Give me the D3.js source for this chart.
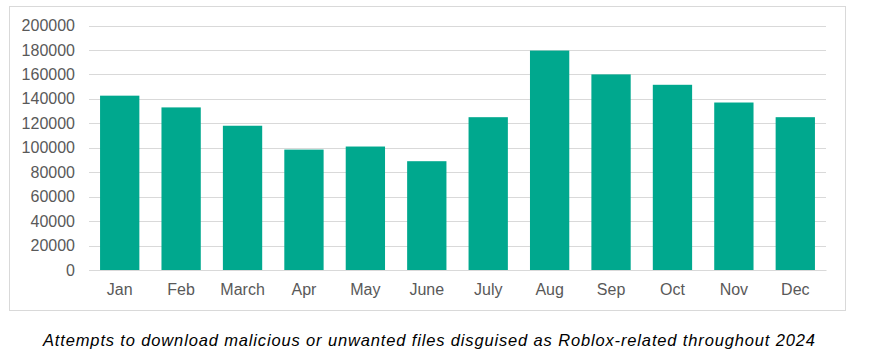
<!DOCTYPE html>
<html><head><meta charset="utf-8">
<script src="https://cdn.jsdelivr.net/npm/d3@7"></script>
<style>body{margin:0;background:#fff;}svg{display:block;font-family:"Liberation Sans",Arial,sans-serif;}</style>
</head><body>
<script>
const months = ["Jan","Feb","March","Apr","May","June","July","Aug","Sep","Oct","Nov","Dec"];
const attempts = [142600,133000,118000,98500,101000,89000,125000,179500,160000,151500,137000,125000];
const yTicks = [0,20000,40000,60000,80000,100000,120000,140000,160000,180000,200000];
const caption = "Attempts to download malicious or unwanted files disguised as Roblox-related throughout 2024";

const W = 869, H = 357;
const svg = d3.select("body").append("svg").attr("width", W).attr("height", H);
svg.append("rect").attr("x", 9.5).attr("y", 6.5).attr("width", 836).attr("height", 304)
  .attr("fill", "#fff").attr("stroke", "#d9d9d9").attr("stroke-width", 1);

const x = d3.scaleBand().domain(months).range([89, 826]).paddingInner(0.36).paddingOuter(0.18);
const y = d3.scaleLinear().domain([0, 200000]).range([270, 25.5]);

const grid = svg.append("g");
grid.selectAll("line").data(yTicks).join("line")
  .attr("x1", 89).attr("x2", 826)
  .attr("y1", d => Math.round(y(d)) + 0.5).attr("y2", d => Math.round(y(d)) + 0.5)
  .attr("stroke", "#d9d9d9").attr("stroke-width", 1);

const yAxis = svg.append("g").attr("transform", "translate(89,0)")
  .call(d3.axisLeft(y).tickValues(yTicks).tickFormat(d => String(d)).tickSize(0).tickPadding(14));
yAxis.select(".domain").remove();
yAxis.selectAll("text").attr("font-size", 16).attr("fill", "#595959").attr("font-family", "Liberation Sans, Arial, sans-serif");

svg.append("g").selectAll("rect").data(months).join("rect")
  .attr("x", d => x(d)).attr("width", x.bandwidth())
  .attr("y", (d, i) => y(attempts[i])).attr("height", (d, i) => y(0) - y(attempts[i]))
  .attr("fill", "#00a88e");

const xAxis = svg.append("g").attr("transform", "translate(0,270)")
  .call(d3.axisBottom(x).tickSize(0).tickPadding(14));
xAxis.select(".domain").attr("stroke", "#d9d9d9");
xAxis.selectAll("text").attr("font-size", 16).attr("fill", "#595959").attr("font-family", "Liberation Sans, Arial, sans-serif");

svg.append("text").attr("x", 43).attr("y", 346)
  .attr("font-size", 16.5).attr("font-style", "italic").attr("fill", "#000")
  .attr("textLength", 772).attr("lengthAdjust", "spacing")
  .text(caption);
</script>
</body></html>
